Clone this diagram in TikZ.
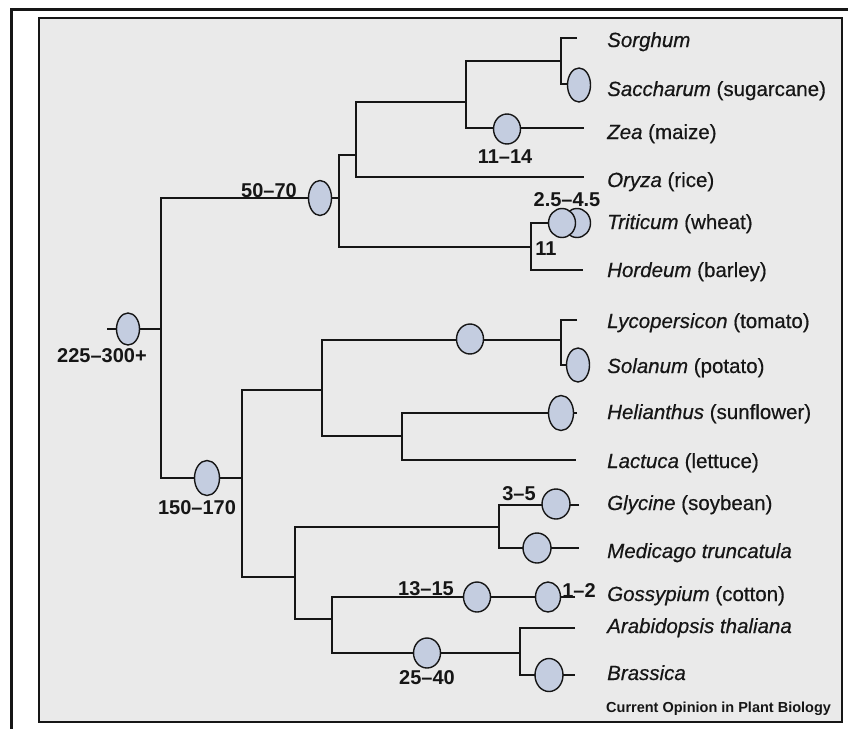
\documentclass[tikz,border=0pt]{standalone}
\usepackage{fontspec}
\setmainfont{Liberation Sans}
\newfontfamily\labfont[FakeBold=0.5, ItalicFeatures={FakeBold=0.5}]{Liberation Sans}
\usetikzlibrary{shapes.geometric}
\pgfdeclarelayer{bg}
\pgfsetlayers{bg,main}
\definecolor{paper}{RGB}{234,234,234}
\definecolor{ovalfill}{RGB}{196,205,224}
\definecolor{ink}{RGB}{22,22,22}
\tikzset{
  branch/.style={draw=ink, line width=1.9pt, line join=miter},
  oval/.style n args={2}{ellipse, draw=ink, line width=1.4pt, fill=ovalfill,
    inner sep=0pt, minimum width=#1, minimum height=#2},
  species/.style={anchor=base west, inner sep=0pt, text=ink,
    font=\labfont\fontsize{20.5}{24}\selectfont},
  age/.style={inner sep=0pt, text=ink, font=\fontsize{20}{24}\selectfont\bfseries},
  credit/.style={anchor=base west, inner sep=0pt, text=ink,
    font=\fontsize{14.5}{17}\selectfont\bfseries},
}
\begin{document}
\begin{tikzpicture}[x=1pt, y=-1pt]
\useasboundingbox (0,0) rectangle (848,729);
% leaf tips
\coordinate (tSor) at (577,38);
\coordinate (tSac) at (579,84);
\coordinate (tZea) at (584,128);
\coordinate (tOry) at (584,177);
\coordinate (tTri) at (562,223);
\coordinate (tHor) at (583,270);
\coordinate (tLyc) at (577,320);
\coordinate (tSol) at (578,365);
\coordinate (tHel) at (577,413);
\coordinate (tLac) at (576,460);
\coordinate (tGly) at (579,505);
\coordinate (tMed) at (579,548);
\coordinate (tGos) at (575,597);
\coordinate (tAra) at (575,628);
\coordinate (tBra) at (575,675);
% internal nodes
\coordinate (A) at (561,61);
\coordinate (B) at (466,102);
\coordinate (C) at (356,155);
\coordinate (D) at (531,247);
\coordinate (E) at (339,198);
\coordinate (F) at (561,340);
\coordinate (G) at (402,436);
\coordinate (H) at (322,390);
\coordinate (I) at (499,527);
\coordinate (J) at (520,653);
\coordinate (K) at (332,619);
\coordinate (L) at (295,577);
\coordinate (M) at (242,478);
\coordinate (Rt) at (161,329);
\coordinate (R0) at (107,329);

\begin{pgfonlayer}{bg}
  \fill[white] (0,0) rectangle (848,729);
  \filldraw[fill=paper, draw=ink, line width=1.8pt] (39,18) rectangle (842,722);
  \draw[ink, line width=2.8pt] (848,9.3) -| (11.2,729);
  % branches
  \draw[branch] (tSor) -| (A) |- (tSac);
  \draw[branch] (A) -| (B) |- (tZea);
  \draw[branch] (B) -| (C) |- (tOry);
  \draw[branch] (C) -| (E) |- (D);
  \draw[branch] (tTri) -| (D) |- (tHor);
  \draw[branch] (E) -| (Rt) |- (M);
  \draw[branch] (R0) -- (Rt);
  \draw[branch] (tLyc) -| (F) |- (tSol);
  \draw[branch] (F) -| (H) |- (G);
  \draw[branch] (tHel) -| (G) |- (tLac);
  \draw[branch] (H) -| (M) |- (L);
  \draw[branch] (I) -| (L) |- (K);
  \draw[branch] (tGly) -| (I) |- (tMed);
  \draw[branch] (tGos) -| (K) |- (J);
  \draw[branch] (tAra) -| (J) |- (tBra);
\end{pgfonlayer}

% duplication ovals
\node[oval={23pt}{32pt}] (eR) at (128,329) {};
\node[oval={23pt}{35pt}] (eMono) at (320,198) {};
\node[oval={23pt}{34pt}] (eSac) at (579,85) {};
\node[oval={27pt}{30pt}] (eZea) at (507,129) {};
\node[oval={27pt}{29pt}] (eT2) at (577,223) {};
\node[oval={27pt}{29pt}] (eT1) at (562,223) {};
\node[oval={27pt}{30pt}] (eF) at (470,339) {};
\node[oval={23pt}{34pt}] (eSol) at (578,365) {};
\node[oval={25pt}{35pt}] (eHel) at (561,413) {};
\node[oval={25pt}{35pt}] (eM) at (207,478) {};
\node[oval={28pt}{30pt}] (eGly) at (556,504) {};
\node[oval={28pt}{30pt}] (eMed) at (537,548) {};
\node[oval={27pt}{30pt}] (eG1) at (477,597) {};
\node[oval={25pt}{30pt}] (eG2) at (548,597) {};
\node[oval={27pt}{30pt}] (eJ) at (427,653) {};
\node[oval={28pt}{33pt}] (eBra) at (549,675) {};

% age labels
\node[age] (a1) at (102,356) {225–300+};
\node[age] (a2) at (269,191) {50–70};
\node[age] (a3) at (505,157) {11–14};
\node[age] (a4) at (567,200) {2.5–4.5};
\node[age] (a5) at (546,249) {11};
\node[age] (a6) at (197,508) {150–170};
\node[age] (a7) at (519,494) {3–5};
\node[age] (a8) at (426,589) {13–15};
\node[age] (a9) at (579,591) {1–2};
\node[age] (a10) at (427,678) {25–40};

% species labels
\node[species] (sSor) at (607,47) {\textit{Sorghum}};
\node[species] (sSac) at (607,96) {\textit{Saccharum} (sugarcane)};
\node[species] (sZea) at (607,139) {\textit{Zea} (maize)};
\node[species] (sOry) at (607,187) {\textit{Oryza} (rice)};
\node[species] (sTri) at (607,229) {\textit{Triticum} (wheat)};
\node[species] (sHor) at (607,277) {\textit{Hordeum} (barley)};
\node[species] (sLyc) at (607,328) {\textit{Lycopersicon} (tomato)};
\node[species] (sSol) at (607,373) {\textit{Solanum} (potato)};
\node[species] (sHel) at (607,419) {\textit{Helianthus} (sunflower)};
\node[species] (sLac) at (607,468) {\textit{Lactuca} (lettuce)};
\node[species] (sGly) at (607,510) {\textit{Glycine} (soybean)};
\node[species] (sMed) at (607,558) {\textit{Medicago truncatula}};
\node[species] (sGos) at (607,601) {\textit{Gossypium} (cotton)};
\node[species] (sAra) at (607,633) {\textit{Arabidopsis thaliana}};
\node[species] (sBra) at (607,680) {\textit{Brassica}};
\node[credit] (cred) at (606,712) {Current Opinion in Plant Biology};
\end{tikzpicture}
\end{document}
